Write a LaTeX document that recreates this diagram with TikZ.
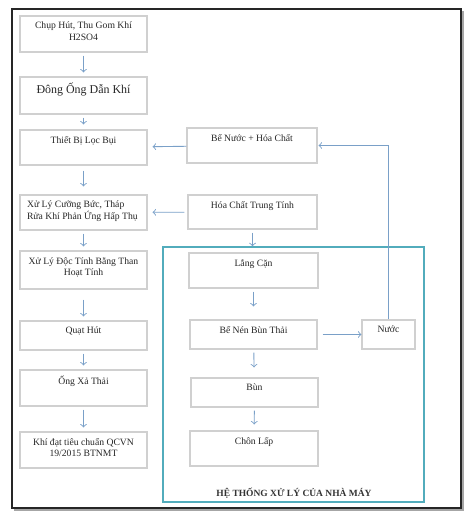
\documentclass[tikz,border=0pt]{standalone}
\usepackage{fontspec}
\setmainfont{Liberation Serif}
\usetikzlibrary{positioning}

\definecolor{boxgray}{RGB}{208,208,208}
\definecolor{arrowblue}{RGB}{122,160,200}
\definecolor{frameteal}{RGB}{82,172,188}

% text of a box, put at the top
\newcommand{\boxtxt}[4][\centering]{\parbox[c][#3][t]{#2}{#1\vspace{3.5pt}#4\par}}

\tikzset{
  procbox/.style={draw=boxgray, line width=0.6pt, inner sep=0pt, font=\fontsize{5.5}{6.4}\selectfont, text=black!85},
  flow/.style={draw=arrowblue, line width=0.5pt, ->, shorten <=0.06cm, shorten >=0.08cm}
}

\begin{document}
\begin{tikzpicture}[x=0.02cm,y=-0.02cm]
\useasboundingbox (0,0) rectangle (466,513);
% outer frame
\draw[gray!70, line width=1.2pt] (14,509.5) -- (462.5,509.5) -- (462.5,11);
\draw[black!85, line width=0.7pt] (12,9) rectangle (461,508);

% left column
\node[procbox] (chup) at (83.5,34) {\boxtxt{2.54cm}{0.72cm}{Chụp Hút, Thu Gom Khí\\H2SO4}};
\node[procbox] (dong) at (83.5,95.5) {\boxtxt{2.54cm}{0.74cm}{\fontsize{6.8}{8}\selectfont Đông Ống Dẫn Khí}};
\node[procbox] (loc) at (83.5,147.5) {\boxtxt{2.54cm}{0.7cm}{Thiết Bị Lọc Bụi}};
\node[procbox] (xlcb) at (83.5,212.5) {\boxtxt[\raggedright\leftskip=4pt]{2.54cm}{0.7cm}{Xử Lý Cưỡng Bức, Tháp\\Rửa Khí Phản Ứng Hấp Thụ}};
\node[procbox] (xldt) at (83.5,270) {\boxtxt{2.54cm}{0.76cm}{Xử Lý Độc Tính Bằng Than\\Hoạt Tính}};
\node[procbox] (quat) at (83.5,335.5) {\boxtxt{2.54cm}{0.58cm}{Quạt Hút}};
\node[procbox] (ong) at (83.5,388) {\boxtxt{2.54cm}{0.72cm}{Ống Xả Thải}};
\node[procbox] (khi) at (83.5,450) {\boxtxt{2.54cm}{0.72cm}{Khí đạt tiêu chuẩn QCVN\\19/2015 BTNMT}};

% right column
\node[procbox] (bnhc) at (252,145.5) {\boxtxt{2.6cm}{0.7cm}{Bể Nước + Hóa Chất}};
\node[procbox] (hctt) at (252.5,212) {\boxtxt{2.58cm}{0.68cm}{Hóa Chất Trung Tính}};
\node[draw=frameteal, line width=0.8pt, minimum width=5.22cm, minimum height=5.1cm] (htxl) at (293.5,374.5) {};
\node[procbox] (lang) at (253.5,270.5) {\boxtxt{2.58cm}{0.7cm}{Lắng Cặn}};
\node[procbox] (bennen) at (253.5,334.5) {\boxtxt{2.54cm}{0.58cm}{Bể Nén Bùn Thải}};
\node[procbox] (nuoc) at (388.5,334.5) {\boxtxt{1.06cm}{0.58cm}{Nước}};
\node[procbox] (bun) at (254.5,392.5) {\boxtxt{2.54cm}{0.58cm}{Bùn}};
\node[procbox] (chon) at (254,448.5) {\boxtxt{2.56cm}{0.7cm}{Chôn Lấp}};
\node[font=\fontsize{5.4}{7}\selectfont\bfseries, text=black!80] (htitle) at (294,493) {HỆ THỐNG XỬ LÝ CỦA NHÀ MÁY};

% arrows
\draw[flow] (chup) -- (dong);
\draw[flow, shorten >=0.1cm] (dong) -- (loc);
\draw[flow, shorten <=0.1cm, shorten >=0.16cm] (loc) -- (xlcb);
\draw[flow] (xlcb) -- (xldt);
\draw[flow, shorten <=0.2cm] (xldt) -- (quat);
\draw[flow] (quat) -- (ong);
\draw[flow] (ong) -- (khi);
\draw[flow, shorten <=0pt, shorten >=0.1cm] (bnhc) -- (loc);
\draw[flow, shorten >=0.1cm] (hctt) -- (xlcb);
\draw[flow, shorten >=0pt] (hctt.south) -- (hctt.south |- htxl.north);
\draw[flow, shorten >=0.26cm] (lang) -- (bennen);
\draw[flow, shorten >=0.2cm] (bennen) -- (bun);
\draw[flow, shorten >=0.12cm] (bun) -- (chon);
\draw[flow, shorten <=0.1cm, shorten >=0pt] (bennen) -- (nuoc);
\draw[flow, shorten <=0pt, shorten >=0.02cm] (nuoc.north) |- (bnhc.east);
\end{tikzpicture}
\end{document}
